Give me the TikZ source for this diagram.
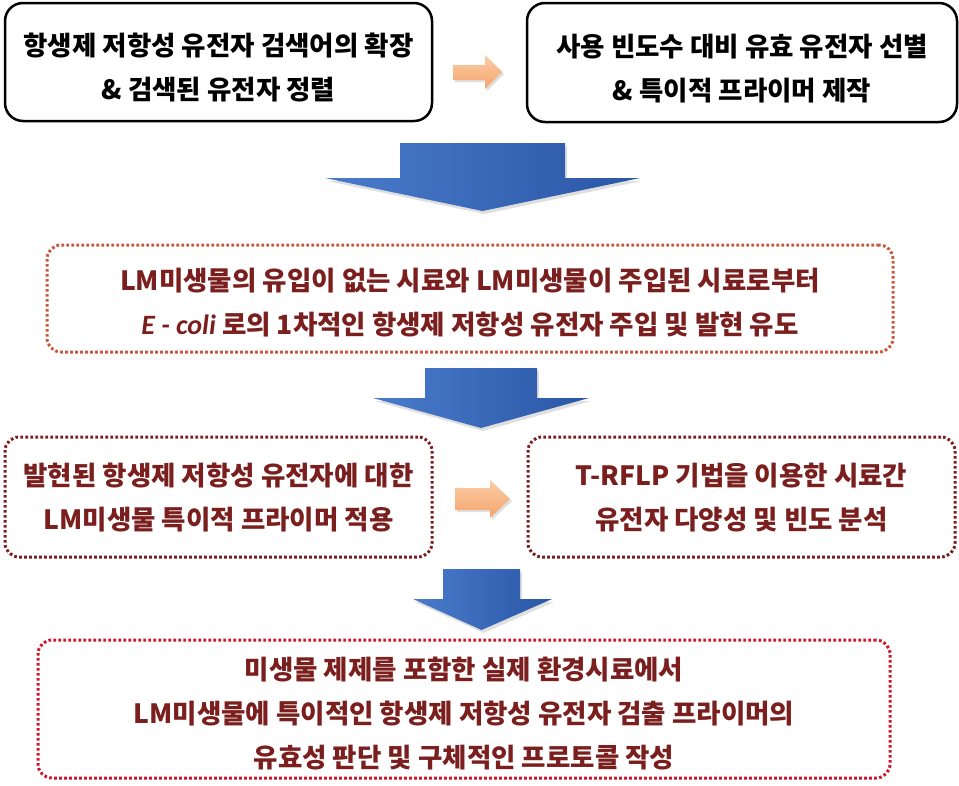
\documentclass[tikz,border=0pt]{standalone}
\usepackage{fontspec}
\setmainfont{Noto Sans CJK KR}
\newfontfamily\latit{Carlito}
\usetikzlibrary{shadows}
\definecolor{txtred}{HTML}{7A1E1E}
\definecolor{bordA}{HTML}{C8583C}
\definecolor{bordB}{HTML}{7A1E22}
\definecolor{bordC}{HTML}{D0142A}
\definecolor{blueL}{HTML}{4A7CCB}
\definecolor{blueR}{HTML}{2A56A6}
\definecolor{orT}{HTML}{FCCDA6}
\definecolor{orB}{HTML}{F3A46C}
\tikzset{
  solidbox/.style={draw=black, line width=2.5pt, rounded corners=18pt, inner sep=0pt},
  dotbox/.style={draw=#1, line width=3pt, dash pattern=on 2.6pt off 2.4pt, rounded corners=14pt, inner sep=0pt},
  blacktext/.style={align=center, inner sep=0pt, text=black},
  redtext/.style={align=center, inner sep=0pt, text=txtred},
  bluearrow/.style={left color=blueL, right color=blueR, drop shadow={opacity=0.25, shadow xshift=2pt, shadow yshift=-3pt}},
  orarrow/.style={top color=orT, bottom color=orB, drop shadow={opacity=0.25, shadow xshift=2pt, shadow yshift=-2pt}},
}
\begin{document}
\begin{tikzpicture}[x=1pt,y=-1pt, font=\fontsize{26.5}{44}\selectfont\bfseries]
\useasboundingbox (0,0) rectangle (959,785);
\fill[white] (0,0) rectangle (959,785);

\node[solidbox, minimum width=427pt, minimum height=118pt] (b1) at (218.5,62) {};
\node[blacktext] (t1) at ([yshift=-6pt]b1.center)
  {항생제 저항성 유전자 검색어의 확장\\ \& 검색된 유전자 정렬};
\node[solidbox, minimum width=430pt, minimum height=119pt] (b2) at (742,62.5) {};
\node[blacktext] (t2) at ([yshift=-6pt]b2.center)
  {사용 빈도수 대비 유효 유전자 선별\\ \& 특이적 프라이머 제작};

\node[dotbox=bordA, minimum width=846pt, minimum height=107pt] (b3) at (470,298.5) {};
\node[redtext] (t3) at ([yshift=-4pt]b3.center)
  {LM미생물의 유입이 없는 시료와 LM미생물이 주입된 시료로부터\\ {\latit\itshape\fontsize{28}{44}\selectfont E - coli} 로의 1차적인 항생제 저항성 유전자 주입 및 발현 유도};

\node[dotbox=bordB, minimum width=427pt, minimum height=120pt] (b4) at (218.5,497) {};
\node[redtext] (t4) at ([yshift=-1pt]b4.center)
  {발현된 항생제 저항성 유전자에 대한\\ LM미생물 특이적 프라이머 적용};
\node[dotbox=bordB, minimum width=427pt, minimum height=120pt] (b5) at (741.5,497) {};
\node[redtext] (t5) at ([yshift=-1pt]b5.center)
  {T-RFLP 기법을 이용한 시료간\\ 유전자 다양성 및 빈도 분석};

\node[dotbox=bordC, minimum width=852pt, minimum height=138pt] (b6) at (464,709) {};
\node[redtext] (t6) at ([yshift=-5pt]b6.center)
  {미생물 제제를 포함한 실제 환경시료에서\\ LM미생물에 특이적인 항생제 저항성 유전자 검출 프라이머의\\ 유효성 판단 및 구체적인 프로토콜 작성};

% orange arrows
\path[orarrow] (453,65) -- (485,65) -- (485,55) -- (502,72) -- (485,89) -- (485,80) -- (453,80) -- cycle;
\path[orarrow] (455,488) -- (490,488) -- (490,480) -- (510,499) -- (490,518) -- (490,510) -- (455,510) -- cycle;

% blue arrows
\path[bluearrow] (400,143) -- (565,143) -- (565,178) -- (640,178) -- (482.5,211) -- (325,178) -- (400,178) -- cycle;
\path[bluearrow] (425,368) -- (537,368) -- (537,398) -- (589,398) -- (481,428) -- (373,398) -- (425,398) -- cycle;
\path[bluearrow] (443,569) -- (520,569) -- (520,599) -- (552,599) -- (481.5,630) -- (413,599) -- (443,599) -- cycle;
\end{tikzpicture}
\end{document}
